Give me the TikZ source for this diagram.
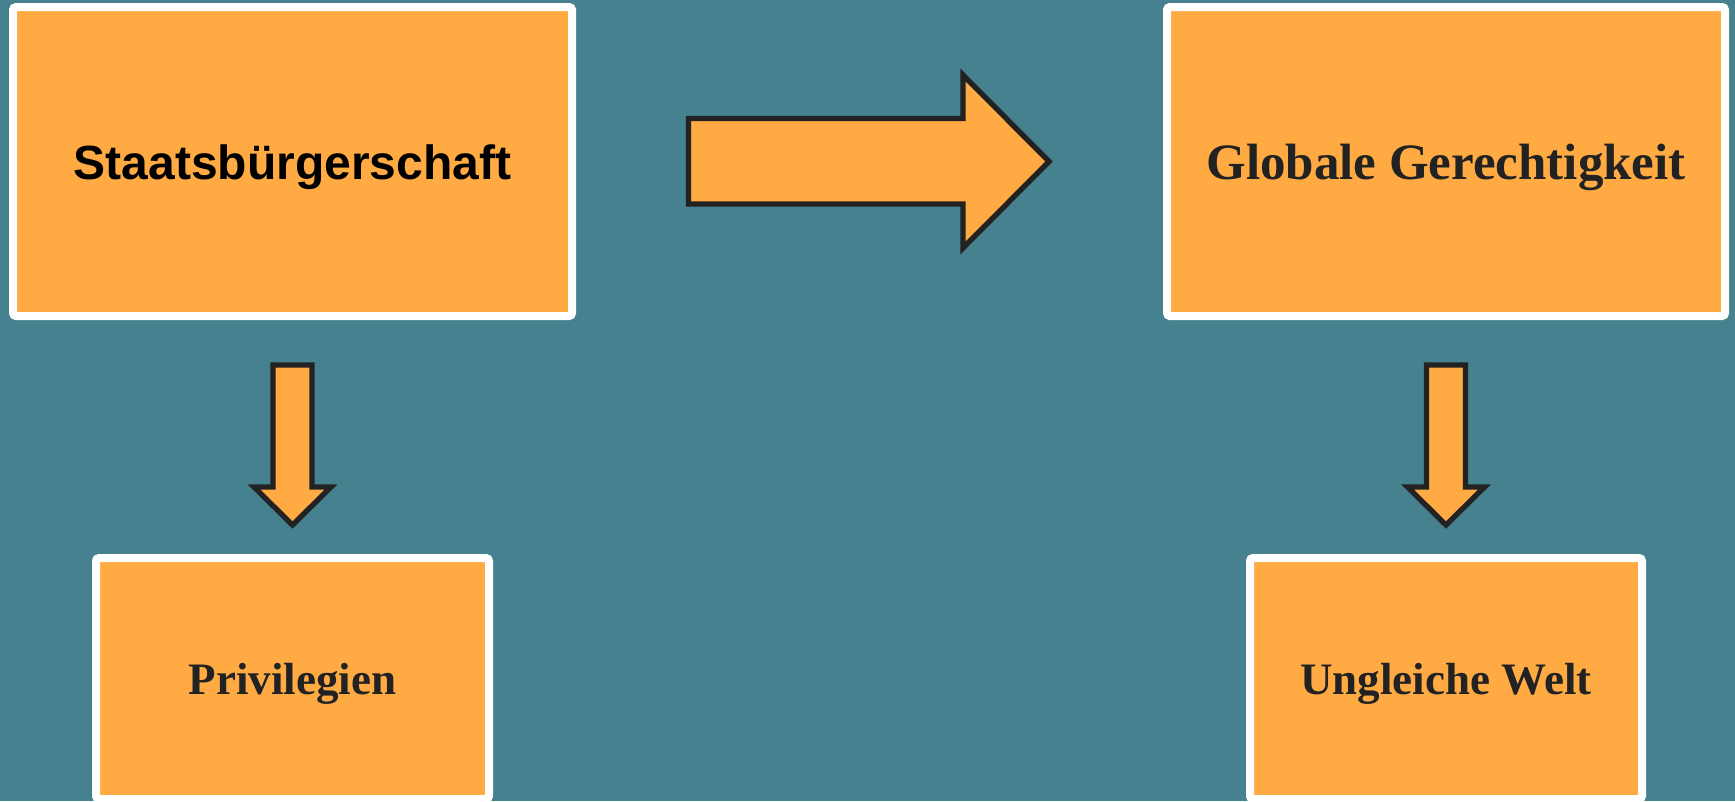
\documentclass[tikz,border=0pt]{standalone}
\usepackage{fontspec}
\setmainfont{Liberation Serif}
\newfontfamily\arialbold{Liberation Sans}
\definecolor{bgteal}{HTML}{46818F}
\definecolor{boxorange}{HTML}{FFAA42}
\definecolor{darkline}{HTML}{222222}
\tikzset{
  box/.style={draw=white, line width=8pt, fill=boxorange, rounded corners=3pt,
    inner sep=0pt, text depth=0pt, align=center},
  blockarrow/.style={draw=darkline, line width=5.3pt, fill=boxorange, line join=miter},
  serifbold/.style={font=\fontsize{51}{60}\selectfont\bfseries, text=darkline},
  serifsmall/.style={font=\fontsize{45}{54}\selectfont\bfseries, text=darkline}
}
\begin{document}
\begin{tikzpicture}[x=1pt, y=-1pt]
\fill[bgteal] (0,0) rectangle (1735,801);
\useasboundingbox (0,0) rectangle (1735,801);

\node[box, minimum width=559pt, minimum height=309pt, text height=36pt,
  font=\arialbold\fontsize{48}{58}\selectfont\bfseries, text=black]
  (staat) at (292.5,161.5) {Staatsbürgerschaft};
\node[box, serifbold, minimum width=558pt, minimum height=309pt, text height=36pt]
  (global) at (1446,161.5) {Globale Gerechtigkeit};
\node[box, serifsmall, minimum width=393pt, minimum height=241pt, text height=32pt]
  (priv) at (292.5,678.5) {Privilegien};
\node[box, serifsmall, minimum width=392pt, minimum height=241pt, text height=32pt]
  (welt) at (1446,678.5) {Ungleiche Welt};

% right block arrow
\draw[blockarrow] (688.5,118.5) -- (963,118.5) -- (963,75) -- (1049,161.5)
  -- (963,248) -- (963,204) -- (688.5,204) -- cycle;
% left down arrow
\draw[blockarrow] (273,365) -- (312,365) -- (312,487) -- (331,487) -- (292.5,525)
  -- (254,487) -- (273,487) -- cycle;
% right down arrow
\draw[blockarrow] (1426.5,365) -- (1465.5,365) -- (1465.5,487) -- (1484.5,487) -- (1446,525)
  -- (1407.5,487) -- (1426.5,487) -- cycle;
\end{tikzpicture}
\end{document}
